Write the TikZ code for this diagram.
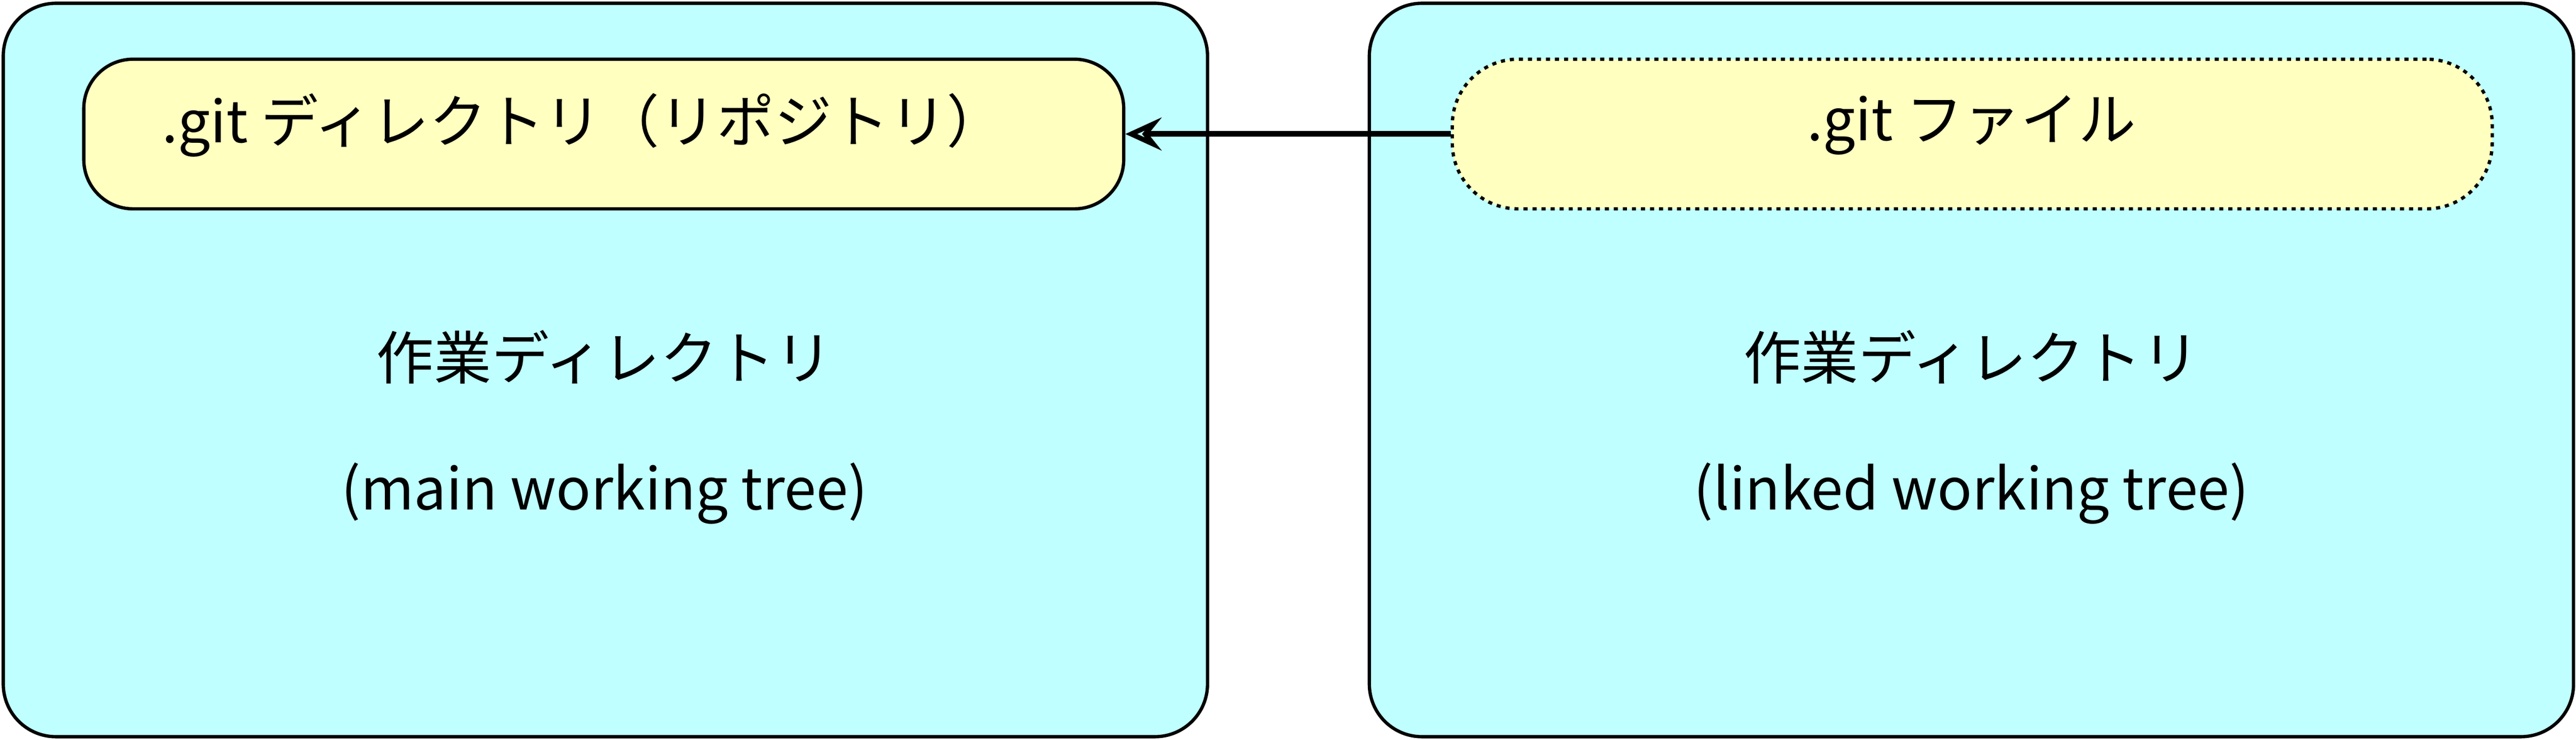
\documentclass[tikz,border=0pt]{standalone}
\usepackage{fontspec}
\setmainfont{Noto Sans CJK JP}
\usetikzlibrary{arrows.meta}
\definecolor{cyanbg}{HTML}{C0FFFF}
\definecolor{yel}{HTML}{FFFFC0}
\tikzset{
  outer/.style={draw=black,line width=2pt,fill=cyanbg,rounded corners=32pt,minimum width=733pt,minimum height=446pt,inner sep=0pt},
  inner/.style={draw=black,line width=2pt,fill=yel,rounded corners=30pt,minimum width=633pt,minimum height=91pt,inner sep=0pt},
  lbl/.style={font=\fontsize{35}{42}\selectfont,inner sep=0pt}
}
\begin{document}
\begin{tikzpicture}[x=1pt,y=-1pt]
\useasboundingbox (0,0) rectangle (1568,450);
\node[outer] (L) at (368.5,225) {};
\node[outer] (R) at (1200,225) {};
\node[inner] (gd) at (367.5,81.5) {};
\node[inner,dash pattern=on 2.5pt off 3pt,rounded corners=40pt] (gf) at (1200.5,81.5) {};
\node[lbl] (gdt) at (355,76) {.git ディレクトリ（リポジトリ）};
\node[lbl] (gft) at (1200,76) {.git ファイル};
\draw[line width=3.5pt,-{Stealth[open,length=22pt,width=20pt,line width=3pt,inset=8pt]}] (gf.west) -- (gd.east);
\node[lbl] (lw) at (368,217) {作業ディレクトリ};
\node[lbl] (lm) at (368,300) {(main working tree)};
\node[lbl] (rw) at (1200,217) {作業ディレクトリ};
\node[lbl] (rl) at (1200,300) {(linked working tree)};
\end{tikzpicture}
\end{document}
